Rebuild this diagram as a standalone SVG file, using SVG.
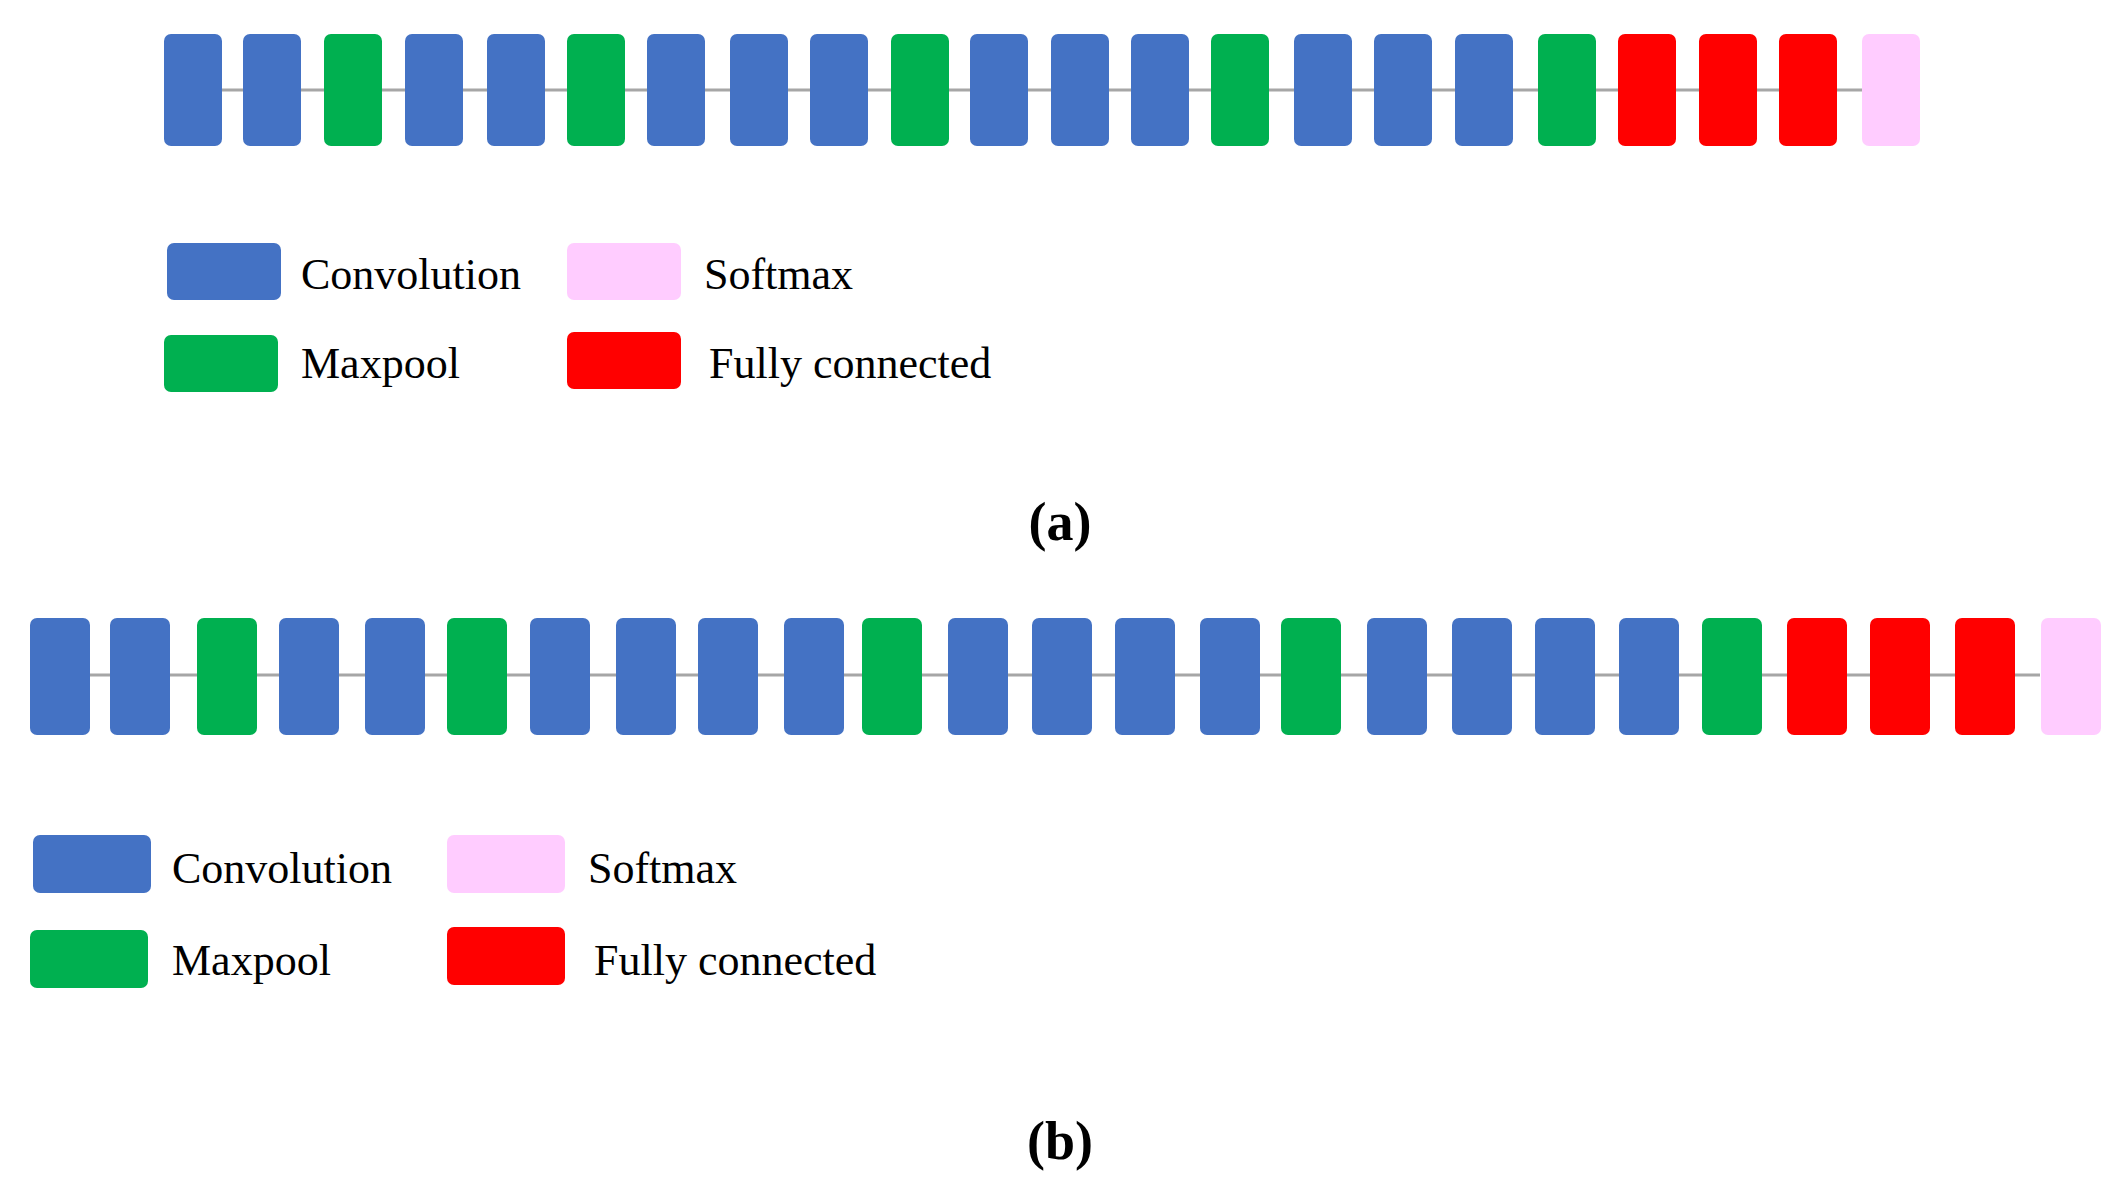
<svg xmlns="http://www.w3.org/2000/svg" width="2119" height="1191" viewBox="0 0 2119 1191">
<style>
.B{fill:#4472C4}.G{fill:#00B050}.R{fill:#FF0000}.P{fill:#FFCCFF}
.t{font-family:"Liberation Serif",serif;font-size:44px;fill:#000}
.c{font-family:"Liberation Serif",serif;font-size:54px;font-weight:bold;text-anchor:middle;fill:#000}
.ln{stroke:#A6A6A6;stroke-width:3}
</style>
<rect width="2119" height="1191" fill="#fff"/>
<g id="connectors">
<line class="ln" x1="190" y1="90" x2="1862" y2="90"/>
<line class="ln" x1="60" y1="675" x2="2040" y2="675"/>
</g>
<g id="rowA">
<rect class="B" x="164" y="34" width="58" height="112" rx="7"/>
<rect class="B" x="243" y="34" width="58" height="112" rx="7"/>
<rect class="G" x="324" y="34" width="58" height="112" rx="7"/>
<rect class="B" x="405" y="34" width="58" height="112" rx="7"/>
<rect class="B" x="487" y="34" width="58" height="112" rx="7"/>
<rect class="G" x="567" y="34" width="58" height="112" rx="7"/>
<rect class="B" x="647" y="34" width="58" height="112" rx="7"/>
<rect class="B" x="730" y="34" width="58" height="112" rx="7"/>
<rect class="B" x="810" y="34" width="58" height="112" rx="7"/>
<rect class="G" x="891" y="34" width="58" height="112" rx="7"/>
<rect class="B" x="970" y="34" width="58" height="112" rx="7"/>
<rect class="B" x="1051" y="34" width="58" height="112" rx="7"/>
<rect class="B" x="1131" y="34" width="58" height="112" rx="7"/>
<rect class="G" x="1211" y="34" width="58" height="112" rx="7"/>
<rect class="B" x="1294" y="34" width="58" height="112" rx="7"/>
<rect class="B" x="1374" y="34" width="58" height="112" rx="7"/>
<rect class="B" x="1455" y="34" width="58" height="112" rx="7"/>
<rect class="G" x="1538" y="34" width="58" height="112" rx="7"/>
<rect class="R" x="1618" y="34" width="58" height="112" rx="7"/>
<rect class="R" x="1699" y="34" width="58" height="112" rx="7"/>
<rect class="R" x="1779" y="34" width="58" height="112" rx="7"/>
<rect class="P" x="1862" y="34" width="58" height="112" rx="7"/>
</g>
<g id="legendA">
<rect class="B" x="167" y="243" width="114" height="57" rx="7"/><text class="t" x="301" y="289">Convolution</text>
<rect class="P" x="567" y="243" width="114" height="57" rx="7"/><text class="t" x="704" y="289">Softmax</text>
<rect class="G" x="164" y="335" width="114" height="57" rx="7"/><text class="t" x="301" y="378">Maxpool</text>
<rect class="R" x="567" y="332" width="114" height="57" rx="7"/><text class="t" x="709" y="378">Fully connected</text>
<text class="c" x="1060" y="540">(a)</text>
</g>
<g id="rowB">
<rect class="B" x="30" y="618" width="60" height="117" rx="7"/>
<rect class="B" x="110" y="618" width="60" height="117" rx="7"/>
<rect class="G" x="197" y="618" width="60" height="117" rx="7"/>
<rect class="B" x="279" y="618" width="60" height="117" rx="7"/>
<rect class="B" x="365" y="618" width="60" height="117" rx="7"/>
<rect class="G" x="447" y="618" width="60" height="117" rx="7"/>
<rect class="B" x="530" y="618" width="60" height="117" rx="7"/>
<rect class="B" x="616" y="618" width="60" height="117" rx="7"/>
<rect class="B" x="698" y="618" width="60" height="117" rx="7"/>
<rect class="B" x="784" y="618" width="60" height="117" rx="7"/>
<rect class="G" x="862" y="618" width="60" height="117" rx="7"/>
<rect class="B" x="948" y="618" width="60" height="117" rx="7"/>
<rect class="B" x="1032" y="618" width="60" height="117" rx="7"/>
<rect class="B" x="1115" y="618" width="60" height="117" rx="7"/>
<rect class="B" x="1200" y="618" width="60" height="117" rx="7"/>
<rect class="G" x="1281" y="618" width="60" height="117" rx="7"/>
<rect class="B" x="1367" y="618" width="60" height="117" rx="7"/>
<rect class="B" x="1452" y="618" width="60" height="117" rx="7"/>
<rect class="B" x="1535" y="618" width="60" height="117" rx="7"/>
<rect class="B" x="1619" y="618" width="60" height="117" rx="7"/>
<rect class="G" x="1702" y="618" width="60" height="117" rx="7"/>
<rect class="R" x="1787" y="618" width="60" height="117" rx="7"/>
<rect class="R" x="1870" y="618" width="60" height="117" rx="7"/>
<rect class="R" x="1955" y="618" width="60" height="117" rx="7"/>
<rect class="P" x="2041" y="618" width="60" height="117" rx="7"/>
</g>
<g id="legendB">
<rect class="B" x="33" y="835" width="118" height="58" rx="7"/><text class="t" x="172" y="883">Convolution</text>
<rect class="P" x="447" y="835" width="118" height="58" rx="7"/><text class="t" x="588" y="883">Softmax</text>
<rect class="G" x="30" y="930" width="118" height="58" rx="7"/><text class="t" x="172" y="975">Maxpool</text>
<rect class="R" x="447" y="927" width="118" height="58" rx="7"/><text class="t" x="594" y="975">Fully connected</text>
<text class="c" x="1060" y="1159">(b)</text>
</g>
</svg>
